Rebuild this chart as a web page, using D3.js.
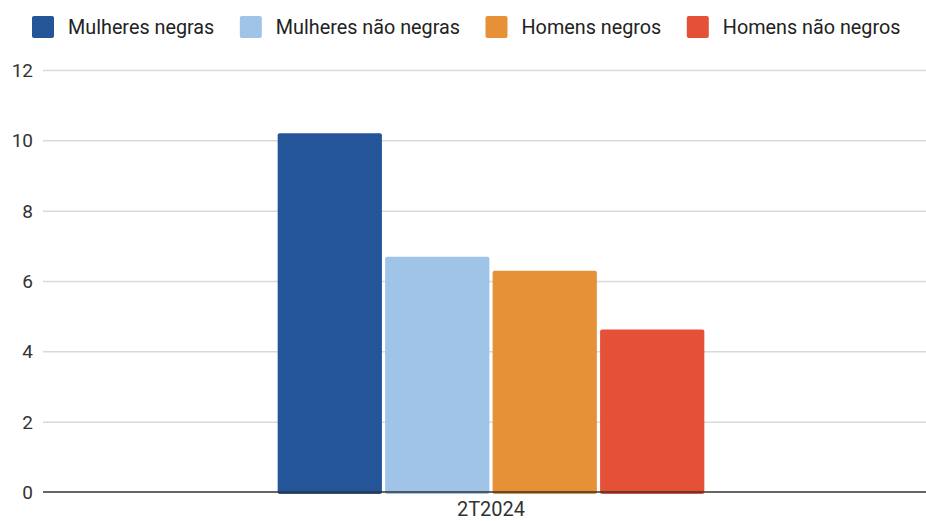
<!DOCTYPE html>
<html>
  <head>
    <meta charset="utf-8">
    <style>
      body { margin: 0; background: #fff; font-family: Roboto, sans-serif; }
      svg { display: block; overflow: hidden; }
      .grid line { stroke: #d9d9d9; stroke-width: 1.5; }
      .grid path { display: none; }
      .y.axis path, .y.axis line { display: none; }
      .y.axis text { fill: #333; font-size: 19px; font-family: Roboto, sans-serif; }
      .x.axis text { fill: #333; font-size: 20px; font-family: Roboto, sans-serif; }
      .x.axis path, .x.axis line { display: none; }
      .legend text { fill: #222; font-size: 19.8px; font-family: Roboto, sans-serif; }
    </style>
  </head>
  <body>
    <div class="chart"></div>
    <script src="https://d3js.org/d3.v7.min.js"></script>
    <script>
      // data
      var categories = ['2T2024'];
      var series = ['Mulheres negras', 'Mulheres não negras', 'Homens negros', 'Homens não negros'];
      var values = [10.2, 6.69, 6.29, 4.62];
      var colors = ['#235598', '#9fc4e7', '#e69138', '#e55137'];
      var yTicks = [0, 2, 4, 6, 8, 10, 12];

      var W = 926, H = 521;
      var margin = {top: 70, right: -13, bottom: 29, left: 43};
      var width = W - margin.left - margin.right,
          height = H - margin.top - margin.bottom;

      var svg = d3.select('.chart').append('svg')
        .attr('width', W)
        .attr('height', H);

      var g = svg.append('g')
        .attr('transform', 'translate(' + margin.left + ',' + margin.top + ')');

      var y = d3.scaleLinear().domain([0, 12]).range([height, 0]);

      var x0 = d3.scaleBand().domain(categories).range([0, width])
        .paddingInner(0).paddingOuter(0.55);
      var x1 = d3.scaleBand().domain(series).range([0, x0.bandwidth()])
        .paddingInner(0.03);

      // gridlines
      g.append('g')
        .attr('class', 'grid')
        .call(d3.axisLeft(y).tickValues(yTicks.slice(1)).tickSize(-width).tickFormat(''));

      // y labels
      g.append('g')
        .attr('class', 'y axis')
        .call(d3.axisLeft(y).tickValues(yTicks).tickSize(0).tickPadding(10))
        .selectAll('text').attr('dy', '0.35em');

      // bars
      var rows = series.map(function(s, i) { return {cat: categories[0], key: s, value: values[i], color: colors[i]}; });
      g.append('g').selectAll('rect')
        .data(rows)
        .enter().append('rect')
        .attr('x', function(d) { return x0(d.cat) + x1(d.key); })
        .attr('y', function(d) { return y(d.value); })
        .attr('width', x1.bandwidth())
        .attr('height', function(d) { return y(0) - y(d.value) + 2; })
        .attr('rx', 2)
        .attr('fill', function(d) { return d.color; });

      // baseline
      g.append('line')
        .attr('x1', 0).attr('x2', width)
        .attr('y1', y(0)).attr('y2', y(0))
        .attr('stroke', '#333').attr('stroke-width', 1.5);

      // x labels
      g.append('g')
        .attr('class', 'x axis')
        .attr('transform', 'translate(0,' + height + ')')
        .call(d3.axisBottom(x0).tickSize(0).tickPadding(10));

      // legend
      var legend = svg.append('g').attr('class', 'legend');
      var lx = 32;
      series.forEach(function(s, i) {
        var item = legend.append('g').attr('transform', 'translate(' + lx + ',16)');
        item.append('rect')
          .attr('width', 22).attr('height', 22).attr('rx', 2)
          .attr('fill', colors[i]);
        var t = item.append('text')
          .attr('x', 36).attr('y', 11).attr('dy', '0.35em')
          .text(s);
        lx += 36 + t.node().getComputedTextLength() + 25.5;
      });
    </script>
  </body>
</html>
